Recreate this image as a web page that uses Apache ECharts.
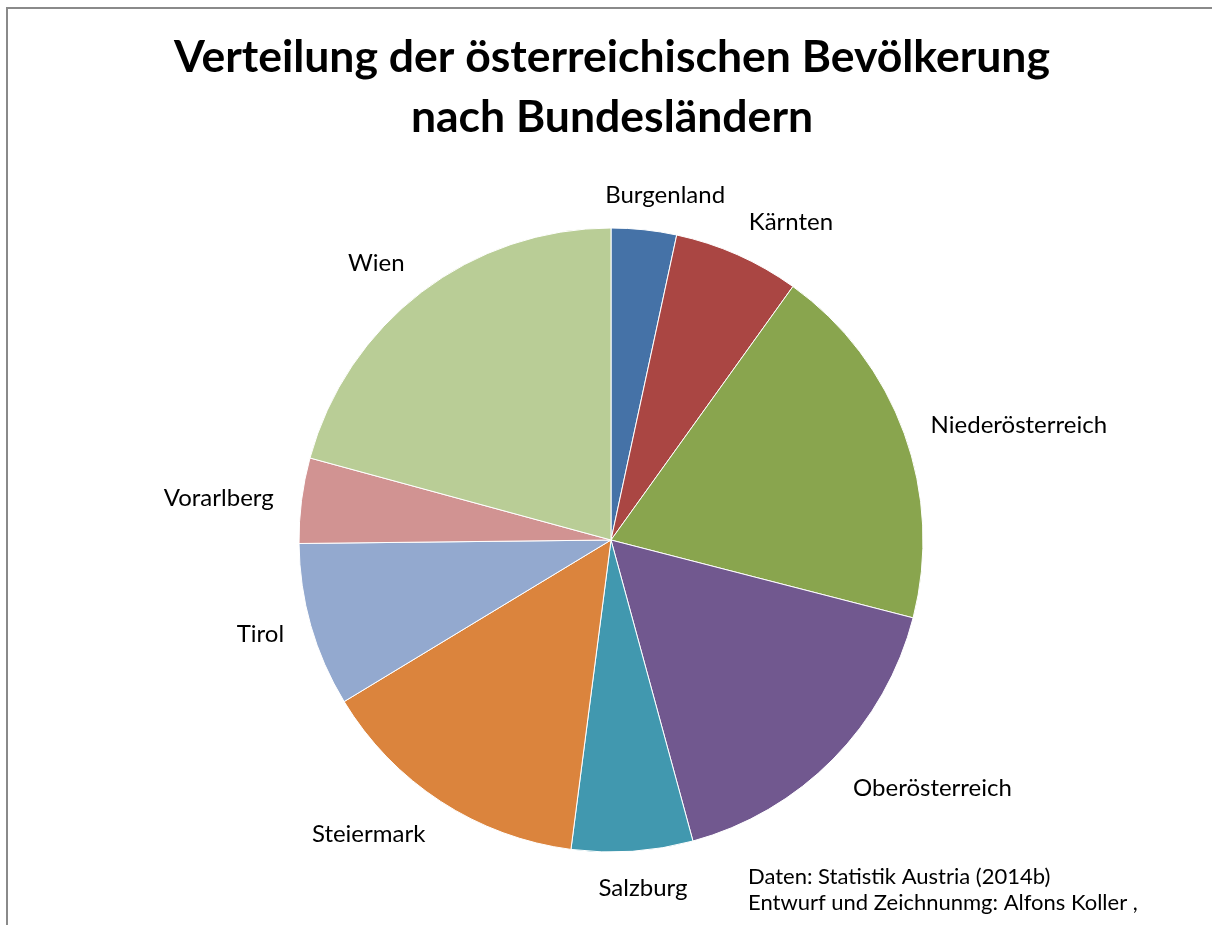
<!DOCTYPE html>
<html>
<head>
<meta charset="utf-8">
<script src="https://cdn.jsdelivr.net/npm/echarts@6/dist/echarts.min.js"></script>
<style>
  html, body { margin: 0; padding: 0; background: #fff; }
  #chart { width: 1212px; height: 925px; }
</style>
</head>
<body>
<div id="chart"></div>
<script>
// Bevölkerung nach Bundesland (Statistik Austria 2014)
const states = ['Burgenland', 'Kärnten', 'Niederösterreich', 'Oberösterreich', 'Salzburg',
  'Steiermark', 'Tirol', 'Vorarlberg', 'Wien']
const population = [287416, 555473, 1625485, 1425422, 534270, 1215246, 722038, 375282, 1766746]
const colors = ['#4572A7', '#AA4643', '#89A54E', '#71588F', '#4198AF',
  '#DB843D', '#93A9CF', '#D19392', '#B9CD96']

const FONT = 'Lato, "Open Sans", sans-serif'
const LABEL_GAP = 28

const chart = echarts.init(document.getElementById('chart'))

const clamp01 = (v) => Math.max(0, Math.min(1, v))

// outside-end labels: anchor point sits on the mid angle just beyond the rim,
// the box hangs off it by its side or corner that faces the pie
const placeLabel = (params) => {
  const layout = chart.getModel().getSeriesByIndex(0).getData().getItemLayout(params.dataIndex)
  if (!layout) return {}
  const mid = (layout.startAngle + layout.endAngle) / 2
  const dx = Math.cos(mid)
  const dy = Math.sin(mid)
  const w = params.labelRect.width
  // glyph box is a bit shorter than the line box
  const h = params.labelRect.height - 8
  const px = layout.cx + dx * (layout.r + LABEL_GAP)
  const py = layout.cy + dy * (layout.r + LABEL_GAP)
  const ax = 0.5 - 0.5 * Math.sign(dx) * clamp01(Math.abs(dx) / 0.35)
  const ay = 0.5 - 0.5 * Math.sign(dy) * clamp01((Math.abs(dy) - 0.35) / 0.35)
  return {
    x: px - ax * w + w / 2,
    y: py - ay * h + h / 2 + 1,
    align: 'center',
    verticalAlign: 'middle',
  }
}

chart.setOption({
  animation: false,
  title: [
    {
      text: 'Verteilung der österreichischen Bevölkerung\nnach Bundesländern',
      left: 612,
      top: 28,
      padding: 0,
      textAlign: 'center',
      textStyle: { fontFamily: FONT, fontSize: 44.5, fontWeight: 'bold', color: '#000', lineHeight: 60 },
    },
    {
      text: 'Daten: Statistik Austria (2014b)\nEntwurf und Zeichnunmg: Alfons Koller ,',
      left: 748,
      top: 864,
      padding: 0,
      textStyle: { fontFamily: FONT, fontSize: 22, fontWeight: 'normal', color: '#000', lineHeight: 26 },
    },
  ],
  graphic: [
    {
      type: 'rect',
      shape: { x: 7, y: 8, width: 1400, height: 1200 },
      style: { fill: 'none', stroke: '#8a8a8a', lineWidth: 2 },
      silent: true,
    },
  ],
  series: [
    {
      type: 'pie',
      center: [611, 540],
      radius: 312,
      startAngle: 90,
      clockwise: true,
      avoidLabelOverlap: false,
      data: states.map((name, i) => ({ name, value: population[i], itemStyle: { color: colors[i] } })),
      itemStyle: { borderColor: '#fff', borderWidth: 1 },
      label: {
        show: true,
        position: 'outside',
        formatter: '{b}',
        fontFamily: FONT,
        fontSize: 24,
        color: '#000',
      },
      labelLine: { show: false, length: 10, length2: 0 },
      labelLayout: placeLabel,
      emphasis: { disabled: true },
    },
  ],
})
</script>
</body>
</html>
